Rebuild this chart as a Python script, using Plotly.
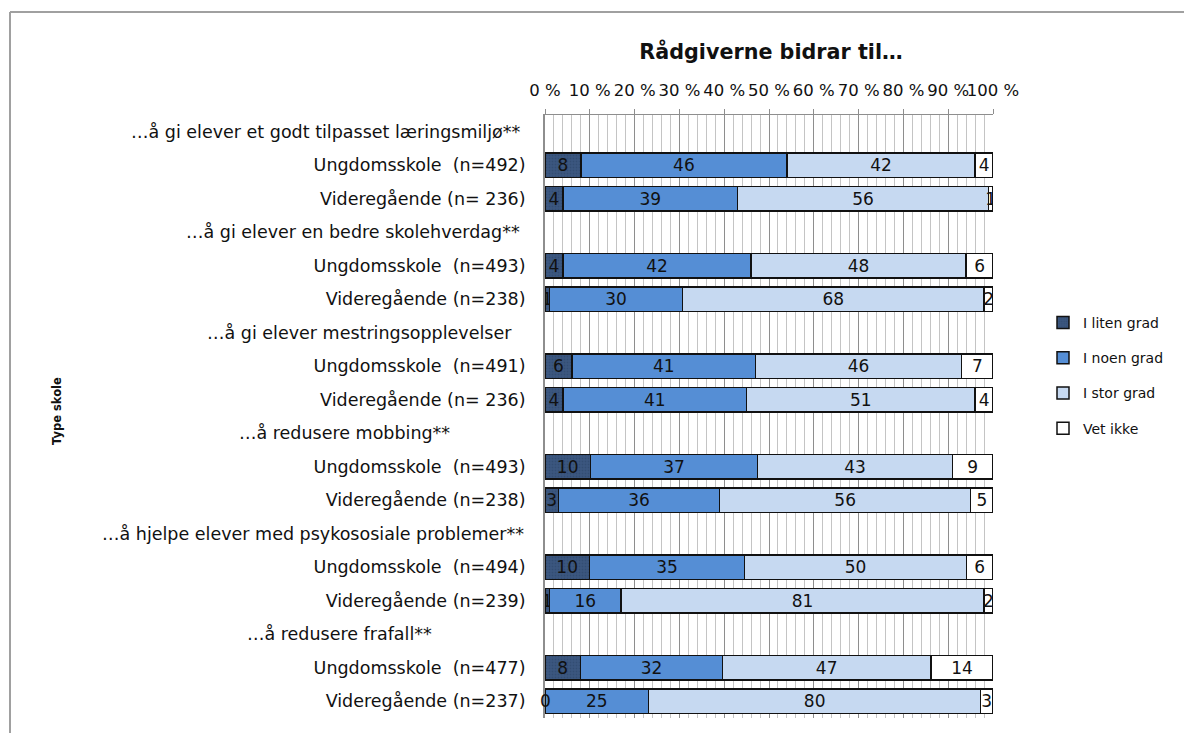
import plotly.graph_objects as go

# ---------------- data ----------------
headers = [
    "…å gi elever et godt tilpasset læringsmiljø**",
    "…å gi elever en bedre skolehverdag**",
    "…å gi elever mestringsopplevelser",
    "…å redusere mobbing**",
    "…å hjelpe elever med psykososiale problemer**",
    "…å redusere frafall**",
]
row_labels = [
    "Ungdomsskole  (n=492)", "Videregående (n= 236)",
    "Ungdomsskole  (n=493)", "Videregående (n=238)",
    "Ungdomsskole  (n=491)", "Videregående (n= 236)",
    "Ungdomsskole  (n=493)", "Videregående (n=238)",
    "Ungdomsskole  (n=494)", "Videregående (n=239)",
    "Ungdomsskole  (n=477)", "Videregående (n=237)",
]
series_names = ["I liten grad", "I noen grad", "I stor grad", "Vet ikke"]
i_liten = [8, 4, 4, 1, 6, 4, 10, 3, 10, 1, 8, 0]
i_noen = [46, 39, 42, 30, 41, 41, 37, 36, 35, 16, 32, 25]
i_stor = [42, 56, 48, 68, 46, 51, 43, 56, 50, 81, 47, 80]
vet_ikke = [4, 1, 6, 2, 7, 4, 9, 5, 6, 2, 14, 3]
x_tick_labels = ["0 %", "10 %", "20 %", "30 %", "40 %", "50 %", "60 %", "70 %", "80 %", "90 %", "100 %"]
title_text = "Rådgiverne bidrar til…"
y_title = "Type skole"

# ---------------- category order (header + 2 rows per group) ----------------
cats, ticktext, header_cats = [], [], []
for g, h in enumerate(headers):
    hid = f"h{g}"
    cats.append(hid); ticktext.append(""); header_cats.append(hid)
    for k in range(2):
        i = 2 * g + k
        cats.append(f"r{i}"); ticktext.append(row_labels[i])

def expand(vals):
    out = []
    for g in range(len(headers)):
        out.append(None)
        out.extend(vals[2 * g:2 * g + 2])
    return out

all_series = [i_liten, i_noen, i_stor, vet_ikke]
colors = ["#3B5780", "#558ED5", "#C6D9F1", "#FFFFFF"]
FONT = "DejaVu Sans"
TXT = "#111111"

W, H = 1192, 733
OFF = 8  # page body margin of the browser
L, T = 545 - OFF, 115 - OFF
Rpx, Bpx = 993 - OFF, 718 - OFF
R, B = W - Rpx, H - Bpx
pw, ph = Rpx - L, Bpx - T

def px_x(sx):
    return (sx - OFF - L) / pw

def px_y(sy):
    return (Bpx - (sy - OFF)) / ph

fig = go.Figure()
for gi, (name, vals, col) in enumerate(zip(series_names, all_series, colors)):
    v = expand(vals)
    marker = dict(color=col, line=dict(color="#111111", width=1.5))
    if gi == 0:
        marker["pattern"] = dict(shape=".", fgcolor="#2C4466", size=3, solidity=0.3)
    fig.add_trace(go.Bar(
        y=cats, x=v, orientation="h", name=name, marker=marker,
        text=[("" if x is None else str(x)) for x in v],
        texttemplate="%{text}",
        textposition="inside", insidetextanchor="middle", textangle=0,
        textfont=dict(family=FONT, size=17, color=TXT),
        insidetextfont=dict(family=FONT, size=17, color=TXT),
        legendgroup=name,
    ))

annotations = []
# labels for zero-width segments (not drawable as bar text)
for r in range(len(row_labels)):
    tot = sum(s[r] for s in all_series)
    cum = 0
    for s in all_series:
        if s[r] == 0:
            annotations.append(dict(x=100 * cum / tot, y=f"r{r}", xref="x", yref="y", text="0",
                                    showarrow=False, xanchor="center", yanchor="middle",
                                    font=dict(family=FONT, size=17, color=TXT)))
        cum += s[r]

header_ends = [522, 522, 514, 452, 526, 434]
for hid, txt, xe in zip(header_cats, headers, header_ends):
    annotations.append(dict(x=px_x(xe), xref="paper", y=hid, yref="y", text=txt,
                            xanchor="right", yanchor="middle", showarrow=False,
                            font=dict(family=FONT, size=17.5, color=TXT)))
annotations.append(dict(x=px_x(57), xref="paper", y=px_y(411), yref="paper", text=f"<b>{y_title}</b>",
                        textangle=-90, showarrow=False, xanchor="center", yanchor="middle",
                        font=dict(family=FONT, size=11.5, color=TXT)))

fig.update_layout(
    width=W, height=H,
    margin=dict(l=L, r=R, t=T, b=B, pad=0),
    barmode="stack", barnorm="percent", bargap=0.28,
    plot_bgcolor="white", paper_bgcolor="white",
    uniformtext=dict(minsize=17, mode="show"),
    title=dict(text=f"<b>{title_text}</b>", x=px_x(771), xref="paper", xanchor="center",
               y=1 - (52 - OFF) / H, yref="container", yanchor="middle",
               font=dict(family=FONT, size=20.7, color=TXT)),
    xaxis=dict(side="top", range=[0, 100], tickmode="array",
               tickvals=[0, 10, 20, 30, 40, 50, 60, 70, 80, 90, 100], ticktext=x_tick_labels,
               tickangle=0, ticklabelstandoff=6,
               showgrid=True, gridcolor="#8E8E8E", gridwidth=1,
               minor=dict(tickmode="linear", tick0=0, dtick=2, showgrid=True, gridcolor="#C4C4C4", gridwidth=1),
               showline=True, linecolor="#8E8E8E", linewidth=1,
               ticks="outside", ticklen=5, tickcolor="#8E8E8E",
               tickfont=dict(family=FONT, size=16.5, color=TXT), zeroline=False),
    yaxis=dict(categoryorder="array", categoryarray=cats, autorange="reversed",
               tickmode="array", tickvals=cats, ticktext=ticktext,
               tickfont=dict(family=FONT, size=17.5, color=TXT),
               ticks="", ticklabelstandoff=14,
               showline=True, linecolor="#8E8E8E", linewidth=2, showgrid=False, zeroline=False),
    legend=dict(xref="container", x=(1043 - OFF) / W, yref="container", y=1 - (307 - OFF) / H,
                yanchor="top", xanchor="left",
                font=dict(family=FONT, size=14, color=TXT), traceorder="grouped",
                tracegroupgap=14, itemwidth=30, bgcolor="rgba(0,0,0,0)"),
    annotations=annotations,
    shapes=[
        dict(type="line", xref="paper", yref="paper", x0=px_x(10), x1=px_x(1200), y0=px_y(12), y1=px_y(12),
             line=dict(color="#A0A0A0", width=2)),
        dict(type="line", xref="paper", yref="paper", x0=px_x(10), x1=px_x(10), y0=px_y(12), y1=px_y(745),
             line=dict(color="#A0A0A0", width=2)),
    ],
)

fig.write_html("out.html")
